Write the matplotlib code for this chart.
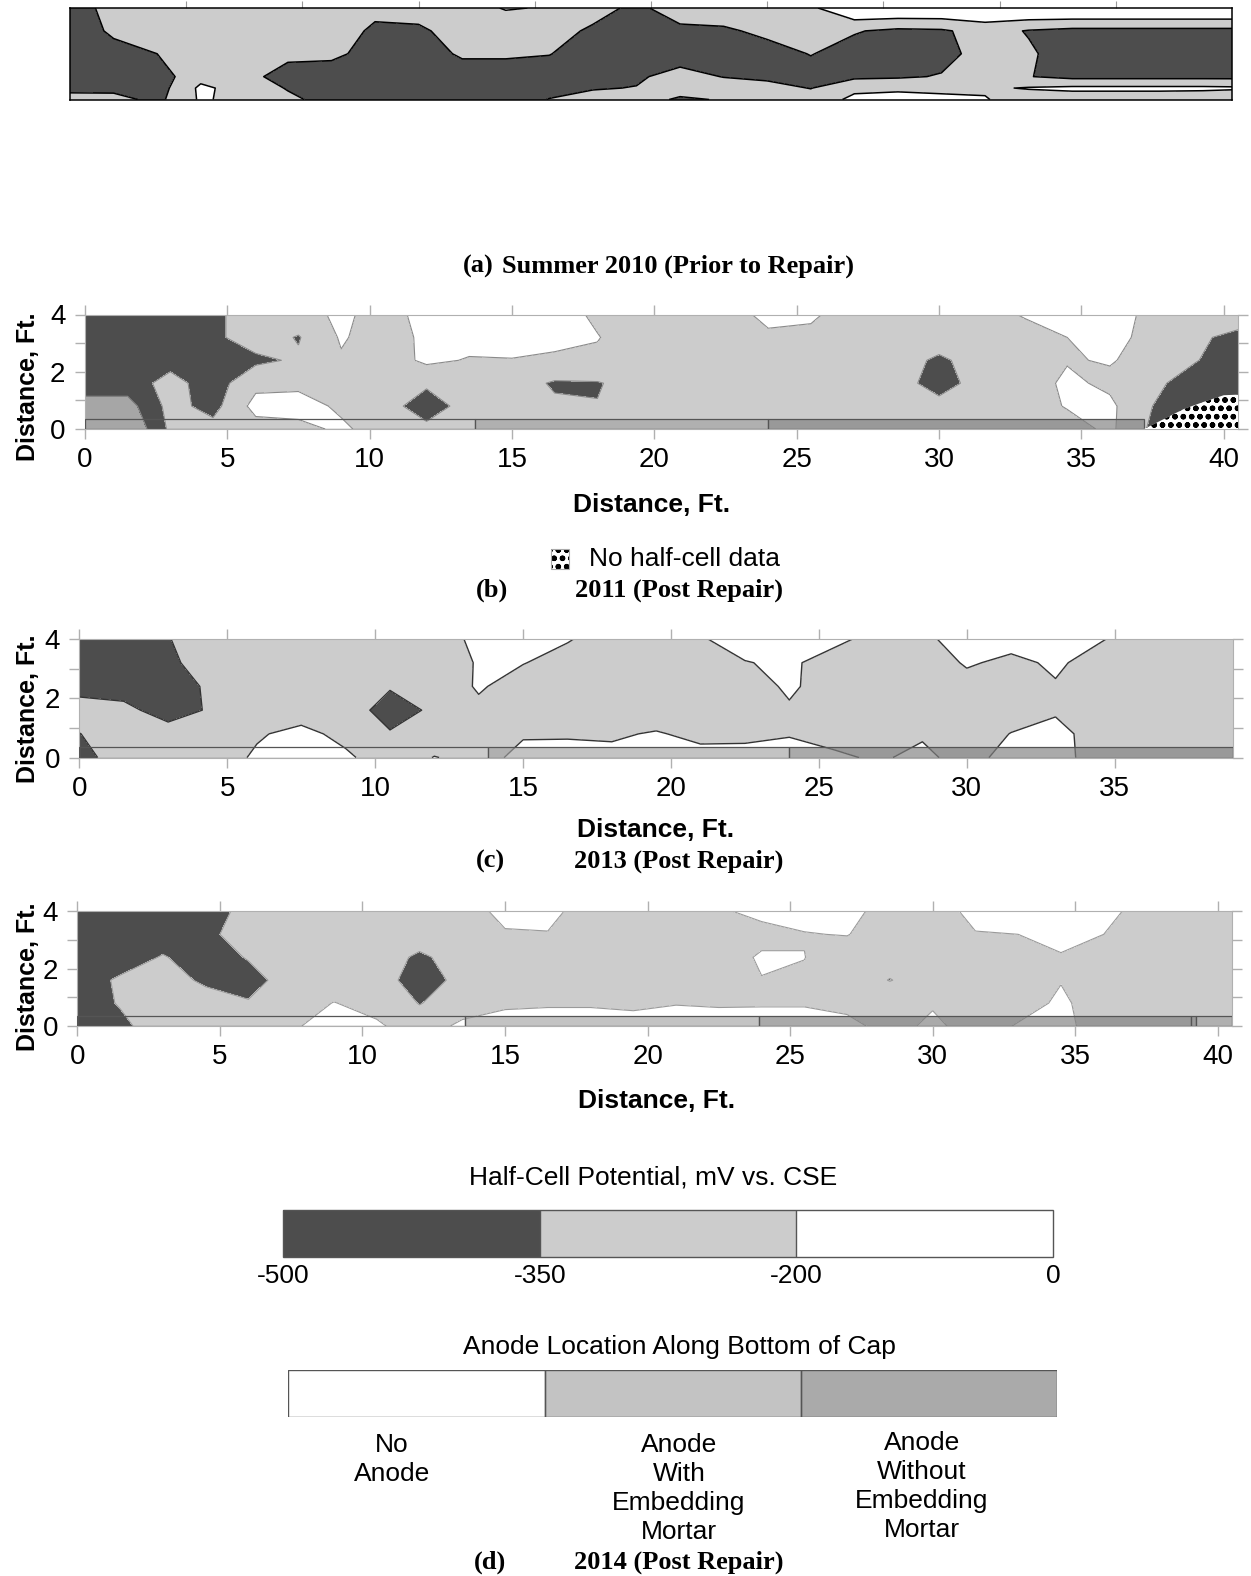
import numpy as np
import matplotlib
matplotlib.use('Agg')
from matplotlib import pyplot as plt
from matplotlib.colors import ListedColormap, BoundaryNorm
from matplotlib.patches import Rectangle
import matplotlib.cm as cm

plt.rcParams['font.family'] = ['Liberation Sans', 'DejaVu Sans']
plt.rcParams['axes.unicode_minus'] = False
plt.rcParams['hatch.linewidth'] = 1.6

W, H = 1251, 1576

# half-cell survey grid, ft
grid_x = [0, 1.5, 3, 4.5, 6, 7.5, 9, 10.5, 12, 13.5, 15, 16.5, 18, 19.5,
          21, 22.5, 24, 25.5, 27, 28.5, 30, 31.5, 33, 34.5, 36, 37.5, 39, 40.5]
grid_y = [0, 0.8, 1.6, 2.4, 3.2, 4.0]
grid_y_2010 = [0, 0.4, 0.8, 1.6, 2.4, 3.2]

# half-cell potentials, mV vs CSE (rows bottom -> top)
hc_2010 = [
    [-280, -300, -390, -180, -250, -320, -400, -420, -420, -420, -420, -345, -300, -290,
     -370, -340, -290, -280, -170, -170, -170, -190, -280, -280, -280, -280, -300, -360],
    [-400, -390, -420, -170, -260, -360, -420, -420, -420, -420, -420, -400, -360, -345,
     -290, -280, -300, -355, -230, -215, -230, -220, -190, -170, -170, -170, -170, -180],
    [-420, -420, -420, -250, -310, -400, -420, -420, -420, -420, -420, -420, -420, -370,
     -300, -355, -380, -400, -380, -370, -340, -290, -345, -390, -390, -390, -390, -390],
    [-420, -390, -350, -290, -280, -320, -320, -400, -420, -330, -330, -345, -420, -420,
     -420, -420, -400, -345, -400, -420, -400, -290, -330, -420, -420, -420, -420, -420],
    [-420, -330, -290, -280, -280, -280, -290, -370, -370, -300, -290, -300, -370, -400,
     -380, -370, -320, -290, -340, -380, -370, -290, -360, -390, -390, -390, -390, -390],
    [-420, -300, -290, -280, -280, -280, -280, -320, -300, -260, -190, -210, -300, -380,
     -280, -270, -250, -230, -50, -50, -50, -50, -30, -20, -20, -20, -20, -20],
]

hc_2011 = [
    [-560, -650, -320, -300, -260, -250, -170, -280, -320, -290, -280, -280, -270, -260,
     -270, -280, -280, -280, -280, -290, -290, -290, -280, -260, -170, -380, -420, -420],
    [-560, -560, -300, -400, -150, -130, -230, -300, -410, -300, -290, -330, -345, -280,
     -270, -280, -280, -280, -280, -290, -310, -290, -270, -190, -170, -350, -420, -430],
    [-420, -420, -300, -420, -240, -240, -270, -300, -330, -290, -290, -365, -360, -290,
     -290, -290, -290, -280, -230, -300, -400, -300, -280, -170, -230, -330, -390, -420],
    [-420, -420, -400, -420, -380, -330, -215, -280, -170, -210, -205, -230, -220, -270,
     -280, -290, -290, -280, -220, -300, -370, -300, -260, -210, -190, -250, -345, -400],
    [-420, -420, -420, -380, -280, -360, -185, -270, -170, -150, -150, -150, -195, -260,
     -280, -280, -220, -230, -270, -290, -290, -280, -250, -200, -170, -230, -330, -380],
    [-420, -420, -400, -380, -280, -260, -170, -260, -150, -140, -140, -150, -220, -270,
     -280, -250, -170, -180, -260, -280, -280, -250, -190, -150, -150, -230, -280, -290],
]

hc_2013 = [
    [-420, -250, -280, -270, -180, -150, -175, -280, -195, -240, -170, -165, -170, -170,
     -160, -170, -170, -180, -215, -170, -250, -150, -150, -260, -290, -290, -290],
    [-352, -300, -300, -330, -215, -160, -240, -340, -280, -270, -210, -210, -215, -190,
     -230, -220, -205, -240, -290, -215, -290, -195, -150, -270, -290, -290, -290],
    [-300, -320, -400, -335, -280, -270, -290, -400, -330, -230, -280, -280, -280, -270,
     -280, -280, -215, -280, -290, -290, -290, -280, -220, -280, -290, -290, -290],
    [-390, -400, -400, -330, -290, -290, -290, -340, -290, -185, -260, -280, -280, -280,
     -270, -260, -180, -260, -280, -280, -250, -270, -210, -270, -280, -280, -280],
    [-420, -420, -370, -300, -290, -290, -290, -290, -270, -190, -195, -250, -270, -270,
     -260, -205, -180, -250, -280, -280, -185, -230, -180, -250, -270, -280, -280],
    [-420, -420, -355, -280, -290, -290, -290, -280, -260, -170, -150, -190, -260, -250,
     -210, -150, -150, -170, -240, -220, -160, -150, -160, -190, -260, -280, -280],
]

hc_2014 = [
    [-420, -380, -280, -280, -280, -210, -170, -175, -290, -165, -150, -150, -150, -150,
     -150, -150, -150, -150, -160, -250, -170, -260, -190, -160, -270, -280, -280, -280],
    [-420, -340, -290, -300, -340, -280, -195, -260, -355, -290, -220, -212, -212, -225,
     -205, -212, -210, -210, -240, -250, -215, -270, -250, -180, -260, -280, -280, -280],
    [-420, -330, -300, -370, -400, -290, -290, -300, -400, -320, -280, -280, -280, -280,
     -280, -275, -205, -215, -270, -355, -280, -280, -270, -205, -270, -280, -280, -280],
    [-420, -420, -340, -420, -340, -290, -290, -290, -370, -300, -280, -280, -280, -280,
     -280, -280, -180, -198, -270, -290, -280, -270, -250, -205, -250, -280, -280, -280],
    [-420, -420, -420, -380, -290, -290, -290, -290, -290, -280, -210, -205, -270, -280,
     -280, -270, -250, -205, -195, -270, -280, -205, -200, -180, -200, -270, -280, -280],
    [-420, -420, -420, -420, -300, -290, -290, -290, -280, -250, -170, -170, -250, -280,
     -270, -220, -160, -160, -170, -240, -250, -170, -150, -160, -170, -240, -280, -280],
]

levels = [-500, -350, -200, 0]
level_labels = ['-500', '-350', '-200', '0']
shades = ['#4d4d4d', '#cccccc', '#ffffff']

# anode layout along the bottom of the cap (ft)
anode_names = ['No\nAnode', 'Anode\nWith\nEmbedding\nMortar', 'Anode\nWithout\nEmbedding\nMortar']
anode_fill = ['none', (0.63, 0.63, 0.63, 0.64), (0.5, 0.5, 0.5, 0.67)]
anode_2011 = [0, 13.7, 24.0, 37.2]
anode_2011_kind = [0, 1, 2]
anode_2013 = [0, 13.8, 24.0, 39.0]
anode_2013_kind = [0, 1, 2]
anode_2014 = [0, 13.6, 23.9, 39.05, 39.25, 40.5]
anode_2014_kind = [0, 1, 2, 2, 1]
strip_h = 0.35

# area without half-cell readings in 2011
nodata_x = [37.2, 37.6, 38.6, 39.3, 40.0, 40.5, 40.5]
nodata_y = [0.0, 0.2, 0.7, 0.95, 1.18, 1.2, 0.0]

cmap = ListedColormap(shades)
cmap.set_under('#a6a6a6')
cmap.set_over('#ffffff')
norm = BoundaryNorm(levels, cmap.N)

fig = plt.figure(figsize=(W / 100, H / 100), dpi=100)


def px_axes(left, top, right, bottom):
    return fig.add_axes([left / W, 1 - bottom / H, (right - left) / W, (bottom - top) / H])


def ftext(x, y, s, **kw):
    fig.text(x / W, 1 - y / H, s, **kw)


def half_cell(ax, gy, z, line_color, lw):
    gx = grid_x[:len(z[0])]
    ax.contourf(gx, gy, z, levels=levels, cmap=cmap, norm=norm, extend='both')
    ax.contour(gx, gy, z, levels=levels[:-1], colors=line_color, linewidths=lw,
               linestyles='solid')


def anode_strip(ax, edges, kinds):
    for x0, x1, k in zip(edges[:-1], edges[1:], kinds):
        ax.add_patch(Rectangle((x0, 0), x1 - x0, strip_h, facecolor=anode_fill[k],
                               edgecolor='#555555', lw=0.9, zorder=3))


def style(ax, xmax, xt, ylab_x, ylab_y):
    ax.set_xlim(0, xmax)
    ax.set_ylim(0, 4)
    ax.set_xticks(xt)
    ax.set_yticks([0, 2, 4])
    ax.set_yticks([1, 3], minor=True)
    ax.tick_params(which='both', direction='out', color='#b0b0b0', length=7, width=1,
                   top=True, right=True, labelsize=20, labelcolor='black')
    ax.tick_params(axis='x', pad=6)
    ax.tick_params(axis='y', pad=7)
    for s in ax.spines.values():
        s.set_color('#b0b0b0')
    ax.set_ylabel('Distance, Ft.', fontsize=18, fontweight='bold')
    ax.yaxis.set_label_coords(ylab_x, ylab_y)


cap_font = dict(family='Liberation Serif', fontweight='bold', fontsize=19, ha='center', va='center')
xlab_font = dict(fontweight='bold', fontsize=19, ha='center', va='center')

# (a) Summer 2010
ax = px_axes(70, 8, 1232, 99.5)
half_cell(ax, grid_y_2010, hc_2010, 'black', 1.1)
ax.set_xlim(0, 40)
ax.set_ylim(0, 3.2)
ax.set_xticks([4, 8, 12, 16, 20, 24, 28, 32, 36])
ax.set_yticks([])
ax.tick_params(axis='x', direction='out', color='#999999', length=5, top=True, bottom=False,
               labeltop=False, labelbottom=False)
for s in ax.spines.values():
    s.set_color('black')
    s.set_linewidth(1.1)
ftext(478, 266, '(a)', **cap_font)
ftext(678, 266, 'Summer 2010 (Prior to Repair)', **cap_font)

# (b) 2011
ax = px_axes(84.9, 314.5, 1238, 429)
half_cell(ax, grid_y, hc_2011, '#8a8a8a', 0.8)
anode_strip(ax, anode_2011, anode_2011_kind)
ax.fill(nodata_x, nodata_y, facecolor='white', edgecolor='black', hatch='oo', lw=0, zorder=4)
style(ax, 40.5, [0, 5, 10, 15, 20, 25, 30, 35, 40], -0.039, 0.37)
ftext(652, 505, 'Distance, Ft.', **xlab_font)
fig.add_artist(Rectangle((551 / W, 1 - 569 / H), 18 / W, 20 / H, transform=fig.transFigure,
                         facecolor='white', edgecolor='black', hatch='oo', lw=0))
fig.add_artist(Rectangle((551 / W, 1 - 569 / H), 18 / W, 20 / H, transform=fig.transFigure,
                         facecolor='none', edgecolor='#aaaaaa', lw=0.8))
ftext(589, 559, 'No half-cell data', fontsize=19, ha='left', va='center')
ftext(492, 590, '(b)', **cap_font)
ftext(679, 590, '2011 (Post Repair)', **cap_font)

# (c) 2013
ax = px_axes(79.4, 639, 1233, 757.6)
half_cell(ax, grid_y, hc_2013, '#333333', 1.0)
anode_strip(ax, anode_2013, anode_2013_kind)
style(ax, 39, [0, 5, 10, 15, 20, 25, 30, 35], -0.034, 0.415)
ftext(656, 830, 'Distance, Ft.', **xlab_font)
ftext(490, 861, '(c)', **cap_font)
ftext(679, 861, '2013 (Post Repair)', **cap_font)

# (d) 2014
ax = px_axes(77.4, 911.4, 1232, 1026)
half_cell(ax, grid_y, hc_2014, '#9a9a9a', 0.8)
anode_strip(ax, anode_2014, anode_2014_kind)
style(ax, 40.5, [0, 5, 10, 15, 20, 25, 30, 35, 40], -0.032, 0.43)
ftext(657, 1101, 'Distance, Ft.', **xlab_font)

# half-cell potential scale
ftext(653, 1177.6, 'Half-Cell Potential, mV vs. CSE', fontsize=19, ha='center', va='center')
cax = px_axes(283.3, 1209.8, 1053, 1257)
cb = fig.colorbar(cm.ScalarMappable(norm=norm, cmap=cmap), cax=cax, orientation='horizontal',
                  spacing='uniform', ticks=levels, drawedges=True)
cb.set_ticklabels(level_labels)
cb.ax.tick_params(length=0, labelsize=19, pad=5)
cb.outline.set_edgecolor('#555555')
cb.outline.set_linewidth(1)
cb.dividers.set_color('#555555')
cb.dividers.set_linewidth(1)

# anode location key
ftext(679, 1347.4, 'Anode Location Along Bottom of Cap', fontsize=19, ha='center', va='center')
lax = px_axes(288.4, 1369.5, 1057, 1416.8)
lax.set_xlim(0, 3)
lax.set_ylim(0, 1)
lax.axis('off')
key_fill = ['white'] + anode_fill[1:]
lax.bar(range(3), [1, 1, 1], width=1, align='edge', color=key_fill, edgecolor='#555555', lw=1)
name_x = [392, 679, 922]
name_top = [1433, 1433, 1431]
for nx, ny, name in zip(name_x, name_top, anode_names):
    ftext(nx, ny, name, fontsize=19, ha='center', va='top', linespacing=1.27)
ftext(490, 1562, '(d)', **cap_font)
ftext(679, 1562, '2014 (Post Repair)', **cap_font)

fig.savefig('out.png', dpi=100)
